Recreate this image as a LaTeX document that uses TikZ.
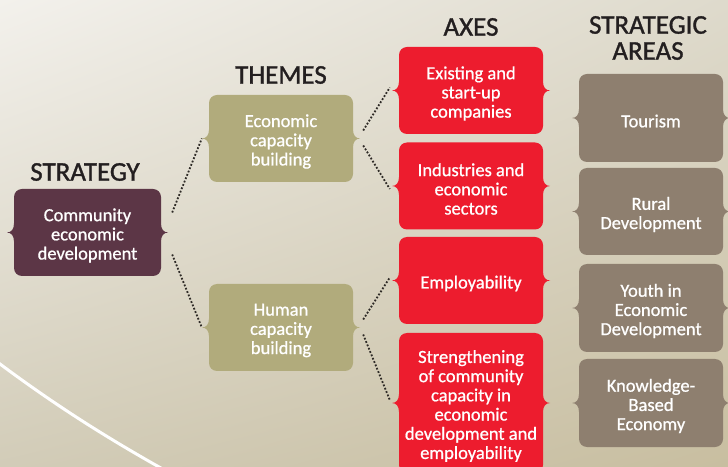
\documentclass[tikz,border=0pt]{standalone}
\usepackage{fontspec}
\usetikzlibrary{shadings}
\setmainfont{Carlito}
\newfontfamily\bodyfont[FakeBold=0.8]{Carlito}
\newfontfamily\headfont[FakeBold=1.2]{Carlito}
\definecolor{plum}{HTML}{5C3646}
\definecolor{olive}{HTML}{B1AB7C}
\definecolor{axred}{HTML}{ED1C2E}
\definecolor{taupe}{HTML}{8E7F6F}
\definecolor{headc}{HTML}{231F20}
\definecolor{dotc}{HTML}{2E2A26}
\definecolor{bgul}{RGB}{243,241,236}
\definecolor{bgur}{RGB}{222,218,204}
\definecolor{bgll}{RGB}{210,204,184}
\definecolor{bglr}{RGB}{200,190,160}
\tikzset{
  boxtxt/.style={inner sep=0pt, text=white, align=center, font=\bodyfont\fontsize{18.5}{19.2}\selectfont},
  anchorbox/.style={inner sep=0pt, draw=none},
  head/.style={inner sep=0pt, text=headc, align=center, font=\headfont\fontsize{27}{23}\selectfont},
  dotline/.style={draw=dotc, line width=1.8pt, dash pattern=on 1.8pt off 1.8pt}
}
% name, cx, cy, w, h, colour, text
\newcommand{\bracebox}[7]{%
  \fill[#6] (#2-#4/2+8,#3+#5/2) -- (#2+#4/2-8,#3+#5/2)
    arc[start angle=90,end angle=0,radius=8pt] -- (#2+#4/2,#3+9)
    .. controls (#2+#4/2,#3+3) and (#2+#4/2+3,#3) .. (#2+#4/2+7,#3)
    .. controls (#2+#4/2+3,#3) and (#2+#4/2,#3-3) .. (#2+#4/2,#3-9)
    -- (#2+#4/2,#3-#5/2+8) arc[start angle=0,end angle=-90,radius=8pt]
    -- (#2-#4/2+8,#3-#5/2) arc[start angle=270,end angle=180,radius=8pt]
    -- (#2-#4/2,#3-9)
    .. controls (#2-#4/2,#3-3) and (#2-#4/2-3,#3) .. (#2-#4/2-7,#3)
    .. controls (#2-#4/2-3,#3) and (#2-#4/2,#3+3) .. (#2-#4/2,#3+9)
    -- (#2-#4/2,#3+#5/2-8) arc[start angle=180,end angle=90,radius=8pt] -- cycle;
  \node[anchorbox, minimum width=#4+14, minimum height=#5] (#1) at (#2,#3) {};
  \node[boxtxt] (#1t) at (#2,#3-3) {#7};
}
\begin{document}
\begin{tikzpicture}[x=1pt,y=1pt]
\useasboundingbox (0,0) rectangle (728,466);
\clip (0,0) rectangle (728,466);
\shade[upper left=bgul, upper right=bgur, lower left=bgll, lower right=bglr]
  (0,0) rectangle (728,466);
\draw[white, line width=3pt] (-8,108) .. controls (53,62) and (107,28) .. (168,-6);

% headings
\node[head] (hstrat) at (85,294) {STRATEGY};
\node[head] (hthem) at (281,391) {THEMES};
\node[head] (haxes) at (471,439) {AXES};
\node[head] (harea1) at (648,441) {STRATEGIC};
\node[head] (harea2) at (648,415) {AREAS};

% boxes
\bracebox{str}{87.5}{233.5}{147}{87}{plum}{Community\\economic\\development}
\bracebox{th1}{281}{327.5}{144}{87}{olive}{Economic\\capacity\\building}
\bracebox{th2}{281}{138.5}{144}{87}{olive}{Human\\capacity\\building}
\bracebox{ax1}{471}{375.5}{144}{87}{axred}{Existing and\\start-up\\companies}
\bracebox{ax2}{471}{280}{144}{87}{axred}{Industries and\\economic\\sectors}
\bracebox{ax3}{471}{185.5}{144}{87}{axred}{Employability}
\bracebox{ax4}{471}{63}{144}{140}{axred}{Strengthening\\of community\\capacity in\\economic\\development and\\employability}
\bracebox{sa1}{651}{348}{144}{88}{taupe}{Tourism}
\bracebox{sa2}{651}{254.5}{144}{87}{taupe}{Rural\\Development}
\bracebox{sa3}{651}{158}{144}{88}{taupe}{Youth in\\Economic\\Development}
\bracebox{sa4}{651}{63}{144}{88}{taupe}{Knowledge-\\Based\\Economy}

% connectors
\draw[dotline] ([shift={(4,20)}]str.east) -- (th1.west);
\draw[dotline] ([shift={(4,-22)}]str.east) -- (th2.west);
\draw[dotline] ([shift={(3,8)}]th1.east) -- ([shift={(-2,3)}]ax1.west);
\draw[dotline] ([shift={(3,-7)}]th1.east) -- ([shift={(-2,-3)}]ax2.west);
\draw[dotline] ([shift={(3,8)}]th2.east) -- ([shift={(-2,3)}]ax3.west);
\draw[dotline] ([shift={(3,-7)}]th2.east) -- ([shift={(-2,3)}]ax4.west);
\end{tikzpicture}
\end{document}
